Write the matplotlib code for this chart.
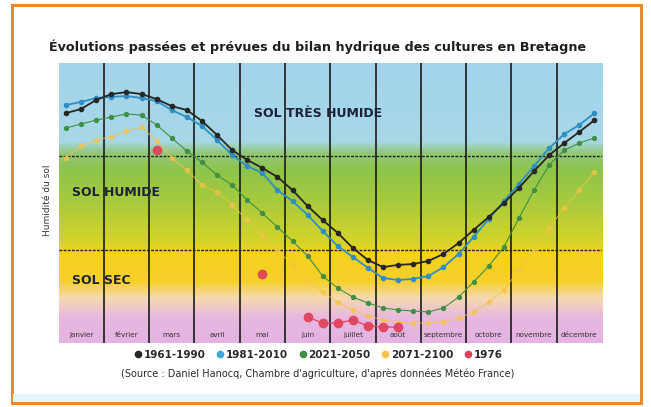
import numpy as np
import matplotlib
matplotlib.use("Agg")
import matplotlib.pyplot as plt
from matplotlib.colors import LinearSegmentedColormap
from matplotlib.lines import Line2D
from matplotlib.patches import Rectangle

# mois et décades (3 points par mois)
mois = ["janvier", "février", "mars", "avril", "mai", "juin", "juillet",
        "août", "septembre", "octobre", "novembre", "décembre"]

s1961_1990 = [82.1, 83.6, 86.8, 88.9, 89.6, 88.9, 87.1, 84.6, 83.2, 79.3, 74.3, 68.9,
              65.4, 62.5, 59.3, 54.6, 48.9, 43.9, 39.3, 33.9, 29.6, 27.1, 27.9, 28.2,
              29.3, 31.8, 35.7, 40.4, 45.0, 50.0, 55.4, 61.4, 67.1, 71.4, 75.4, 79.6]
s1981_2010 = [85.0, 86.1, 87.5, 87.9, 88.2, 87.5, 86.4, 83.2, 80.7, 77.5, 72.5, 67.1,
              63.2, 60.7, 54.6, 50.7, 45.7, 40.0, 34.6, 30.7, 26.8, 23.2, 22.5, 22.9,
              23.9, 27.1, 31.8, 37.9, 44.3, 50.7, 56.8, 63.2, 69.6, 74.6, 77.9, 82.1]
s2021_2050 = [76.8, 78.2, 79.6, 80.7, 81.8, 81.4, 77.9, 73.2, 68.6, 64.6, 60.0, 56.4,
              51.1, 46.4, 41.4, 36.4, 31.1, 23.9, 19.6, 16.4, 14.3, 12.5, 11.8, 11.4,
              11.1, 12.5, 16.4, 21.8, 27.5, 34.3, 44.6, 54.6, 63.6, 68.9, 71.4, 73.2]
s2071_2100 = [66.1, 70.4, 72.5, 73.6, 75.7, 77.1, 72.1, 66.1, 61.8, 56.4, 53.9, 49.3,
              43.9, 38.6, 33.2, 27.9, 22.5, 18.2, 14.6, 11.8, 9.6, 8.2, 7.5, 7.1,
              7.1, 7.5, 8.9, 11.1, 14.6, 18.9, 26.1, 33.2, 41.1, 48.2, 54.6, 61.1]
nan = np.nan
s1976 = [nan, nan, nan, nan, nan, nan, 68.9, nan, nan, nan, nan, nan,
         nan, 24.6, nan, nan, 9.3, 7.1, 7.1, 8.2, 6.1, 5.7, 5.7, nan,
         nan, nan, nan, nan, nan, nan, nan, nan, nan, nan, nan, nan]

series = ["1961-1990", "1981-2010", "2021-2050", "2071-2100", "1976"]

x = (np.arange(36) + 0.5) / 3

fig = plt.figure(figsize=(6.51, 4.07), dpi=100)
fig.patch.set_facecolor("white")

# cadre orange
fig.patches.append(Rectangle((12 / 651, 4 / 407), 629 / 651, 398 / 407, transform=fig.transFigure,
                             fill=False, edgecolor="#e8892c", linewidth=2.2, zorder=0))
fig.patches.append(Rectangle((13 / 651, 5 / 407), 627 / 651, 8 / 407, transform=fig.transFigure,
                             facecolor="#e6f4fb", edgecolor="none", zorder=0))

ax = fig.add_axes([58.5 / 651, 1 - 343 / 407, 543.5 / 651, 280 / 407])

# fond en dégradé
cmap = LinearSegmentedColormap.from_list("fond", [
    (0.00, "#e4b3e2"),
    (0.09, "#e8b8e0"),
    (0.16, "#f6d9b0"),
    (0.22, "#f7d02a"),
    (0.32, "#f4d21c"),
    (0.36, "#d6d42a"),
    (0.50, "#a9cb3c"),
    (0.62, "#8dc44c"),
    (0.68, "#93c878"),
    (0.72, "#a8d7e6"),
    (1.00, "#a3d4ec"),
])
grad = np.linspace(0, 1, 256).reshape(-1, 1)
ax.imshow(grad, extent=[0, 12, 0, 100], origin="lower", aspect="auto", cmap=cmap, zorder=0)

for m in range(1, 12):
    ax.axvline(m, color="#1a1a1a", lw=1.2, zorder=1)
for h in [66.7, 33.3]:
    ax.axhline(h, color="#222222", lw=1.0, ls=(0, (2, 1)), zorder=1)

ax.plot(x, s2071_2100, color="#f6c445", lw=0.8, marker="o", ms=3, alpha=0.7, zorder=2)
ax.plot(x, s2021_2050, color="#3f8f45", lw=0.8, marker="o", ms=2.8, zorder=3)
ax.plot(x, s1981_2010, color="#2f8fc4", lw=1.3, marker="o", ms=3, zorder=4)
ax.plot(x, s1961_1990, color="#262626", lw=1.3, marker="o", ms=3, zorder=5)
ax.plot(x, s1976, color="#e0405a", lw=1.0, marker="o", ms=6, alpha=0.9, zorder=6)

ax.text(5.72, 82.1, "SOL TRÈS HUMIDE", ha="center", va="center", fontsize=9,
        fontweight="bold", color="#1c2238", zorder=7)
ax.text(0.3, 53.9, "SOL HUMIDE", ha="left", va="center", fontsize=9,
        fontweight="bold", color="#1c2238", zorder=7)
ax.text(0.3, 22.5, "SOL SEC", ha="left", va="center", fontsize=9,
        fontweight="bold", color="#1c2238", zorder=7)

for i, nom in enumerate(mois):
    ax.text(i + 0.5, 3, nom, ha="center", va="center", fontsize=5.2,
            color="#333333", zorder=7)

ax.set_xlim(0, 12)
ax.set_ylim(0, 100)
ax.set_xticks([])
ax.set_yticks([])
for sp in ax.spines.values():
    sp.set_visible(False)

fig.text(47 / 651, 1 - 200 / 407, "Humidité du sol", rotation=90, ha="center", va="center",
         fontsize=6.5, color="#333333")

fig.text(318 / 651, 1 - 47 / 407,
         "Évolutions passées et prévues du bilan hydrique des cultures en Bretagne",
         ha="center", va="center", fontsize=9.2, fontweight="bold", color="#1e1e1e")

couleurs = ["#262626", "#3fa7da", "#3f8f45", "#f6c445", "#e0405a"]
handles = [Line2D([], [], ls="none", marker="o", ms=4.5, color=c, label=s)
           for s, c in zip(series, couleurs)]
leg = fig.legend(handles=handles, ncol=5, loc="center", bbox_to_anchor=(318 / 651, 1 - 355 / 407),
                 frameon=False, handletextpad=0.05, columnspacing=1.0, handlelength=0.9,
                 prop={"size": 7.5, "weight": "bold"})
for t in leg.get_texts():
    t.set_color("#2a2a2a")

fig.text(318 / 651, 1 - 374 / 407,
         "(Source : Daniel Hanocq, Chambre d'agriculture, d'après données Météo France)",
         ha="center", va="center", fontsize=7, color="#2a2a2a")

fig.savefig("out.png", dpi=100)
